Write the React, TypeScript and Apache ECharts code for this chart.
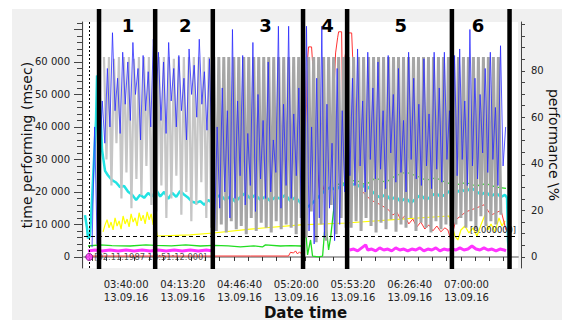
import React, { useEffect, useRef } from 'react';
import * as echarts from 'echarts';

// ---------- axes (time in seconds of day, 13.09.16) ----------
const X_MIN = 11716;
const X_MAX = 27016;
const DATE_LABEL = '13.09.16';
const xTickValues = [12000, 12500, 13000, 13500, 14000, 14500, 15000, 15500, 16000, 16500, 17000, 17500, 18000, 18500, 19000, 19500, 20000, 20500, 21000, 21500, 22000, 22500, 23000, 23500, 24000, 24500, 25000, 25500, 26000, 26500];
const xLabelValues = [13200, 15200, 17200, 19200, 21200, 23200, 25200];

const LEFT_MIN = -3400;
const LEFT_MAX = 72300;
const leftLabelValues = [0, 10000, 20000, 30000, 40000, 50000, 60000];
const leftMajorTicks = [0, 10000, 20000, 30000, 40000, 50000, 60000, 70000];
const leftMinorTicks = [0, 2000, 4000, 6000, 8000, 10000, 12000, 14000, 16000, 18000, 20000, 22000, 24000, 26000, 28000, 30000, 32000, 34000, 36000, 38000, 40000, 42000, 44000, 46000, 48000, 50000, 52000, 54000, 56000, 58000, 60000, 62000, 64000, 66000, 68000, 70000, 72000];

const RIGHT_MIN = -4.75;
const RIGHT_MAX = 101;
const rightLabelValues = [0, 20, 40, 60, 80];
const rightTicks = [0, 5, 10, 15, 20, 25, 30, 35, 40, 45, 50, 55, 60, 65, 70, 75, 80, 85, 90, 95, 100];

// ---------- annotations ----------
const separatorTimes = [12246, 14225, 16257, 19438, 20992, 24686, 26718];
const sectionLabels = ['1', '2', '3', '4', '5', '6'];
const sectionLabelTimes = [13271, 15285, 18112, 20303, 22883, 25604];
const CURSOR_TIME = 11900;
const CURSOR_LABEL = '[02.11.1987 18:51:12.000]';
const THRESHOLD = 9;
const THRESHOLD_LABEL = '[9.000000]';
const GRAY_SPLIT = 16257;

// ---------- time performing (msec), sampled series ----------
const GRAY_START = 12420;
const GRAY_STEP = 88;
const grayValues = [
  61500, 30000, 61500, 22000, 61000, 35000, 61500, 18000, 61500, 26000, 61500, 15000, 61000, 24000, 61500, 19000, 61500, 28000, 61500, 16000, 61500,
  14000, 61500, 22000, 61500, 12000, 61500, 18000, 61000, 25000, 61500, 13000, 61500, 20000, 61500, 11000, 61500, 16000, 61500, 23000, 61500, 12000, 61500, 9000,
  61500, 8000, 61500, 10000, 61500, 7500, 61500, 11000, 61500, 8500, 61500, 9500, 61500, 7000, 61500, 12000, 61500, 8000, 61500, 10500, 61500, 9000, 61500, 7500, 61500, 11000, 61500, 8500, 61500, 10000, 61500, 9000, 61500, 7000, 61500, 12000,
  61500, 6000, 61500, 14000, 61500, 4500, 61500, 10000, 61500, 5000, 61500, 16000, 61500, 7000, 61500, 12000, 61500, 9000,
  61500, 9000, 61500, 11000, 61500, 8000, 61500, 12000, 61500, 9500, 61500, 7500, 61500, 10500, 61500, 8500, 61500, 11500, 61500, 7800, 61500, 10000, 61500, 9000, 61500, 12000, 61500, 8000, 61500, 10500, 61500, 9000, 61500, 7500, 61500, 11000, 61500, 8500, 61500, 10000, 61500, 9500,
  61500, 10000, 61500, 12000, 61500, 9000, 61500, 11000, 61500, 8500, 61500, 12500, 61500, 9500, 61500, 11000, 61500, 10000, 61500, 13000,
];

const BLUE_START = 12000;
const BLUE_STEP = 90;
const blueValues = [
  3000, 40000, 4000, 30000,
  48000, 35000, 58000, 40000, 69000, 45000, 55000, 38000, 63000, 47000, 60000, 42000, 66000, 50000, 58000, 36000, 62000, 45000, 57000, 40000, 67000, 48000,
  63000, 42000, 60000, 38000, 66000, 48000, 58000, 40000, 62000, 45000, 55000, 36000, 64000, 50000, 59000, 43000, 67000, 47000, 57000, 39000, 61000, 30000,
  8000, 40000, 15000, 52000, 20000, 45000, 12000, 70000, 18000, 48000, 25000, 62000, 16000, 38000, 22000, 66000, 14000, 50000, 24000, 42000, 18000, 60000, 20000, 36000, 26000, 71000, 15000, 47000, 22000, 71000, 18000, 44000, 25000, 52000, 10000,
  5000, 71000, 8000, 40000, 4000, 55000, 12000, 71000, 6000, 47000, 15000, 35000, 5000, 58000, 10000, 45000, 20000, 62000,
  25000, 55000, 22000, 64000, 28000, 48000, 20000, 63000, 30000, 52000, 24000, 60000, 27000, 45000, 21000, 62000, 32000, 50000, 23000, 58000, 26000, 42000, 20000, 63000, 30000, 55000, 24000, 47000, 22000, 61000, 28000, 44000, 21000, 63000, 27000, 52000, 23000, 63000, 30000, 45000,
  20000, 62000, 25000, 64000, 30000, 48000, 22000, 70000, 28000, 55000, 24000, 50000, 32000, 58000, 26000, 63000, 30000, 46000, 22000, 65000, 28000, 40000,
];

// ---------- performance % series ----------
const cyanTimes = [11751, 11822, 11857, 11928, 11998, 12069, 12140, 12175, 12246, 12352, 12458, 12564, 12705, 12847, 12988, 13129, 13271, 13412, 13553, 13695, 13836, 13977, 14119, 14260, 14402, 14543, 14684, 14826, 14967, 15108, 15250, 15391, 15532, 15674, 15815, 15957, 16098, 16239, 16381, 16522, 16699, 16875, 17052, 17229, 17405, 17582, 17759, 17936, 18112, 18289, 18466, 18642, 18819, 18996, 19173, 19349, 19526, 19703, 19879, 20056, 20233, 20409, 20586, 20763, 20939, 21116, 21293, 21470, 21646, 21823, 22000, 22176, 22353, 22530, 22706, 22883, 23060, 23237, 23413, 23590, 23767, 23943, 24120, 24297, 24474, 24650, 24827, 25004, 25180, 25357, 25534, 25710, 25887, 26064, 26240, 26417, 26559, 26630, 26665, 26700];
const cyanValues = [18, 12.5, 8, 9, 24.5, 42, 59, 78, 76, 46, 37, 35, 33, 32, 30, 30.5, 28, 26.7, 24.5, 26.7, 25.4, 27.5, 26, 28.8, 26, 28, 25, 27.5, 25.8, 28.4, 26.7, 25.4, 23.7, 23.2, 24, 22.4, 24.5, 23.2, 25.4, 26.7, 24.5, 26, 23.7, 25.8, 27.5, 25, 26.7, 24.5, 26, 24, 25.8, 25, 26.7, 24, 25.8, 23.2, 21, 22.4, 24.5, 26.7, 28.8, 30, 28.8, 30.5, 31.4, 30.5, 31.8, 29.7, 31, 28.8, 26.7, 25.4, 27, 24.5, 26, 23.7, 25.4, 23.2, 25, 26.7, 24.5, 26, 27.5, 25.8, 27, 28.8, 27.5, 29, 28, 29.7, 28.4, 26.7, 28, 26, 27.5, 25.8, 26.7, 25.4, 7, 0];

const yellowTimes = [12387, 12458, 12529, 12599, 12670, 12741, 12811, 12882, 12953, 13023, 13094, 13165, 13235, 13306, 13377, 13447, 13518, 13589, 13659, 13730, 13801, 13871, 13942, 14013, 14084, 14154, 14225, 14296, 15462, 16275, 17582, 19349, 20975, 22883, 24580, 24686, 24792, 24898, 25004, 25145, 25286, 25428, 25569, 25710, 25852, 25958, 26064, 26205, 26346, 26452, 26559];
const yellowValues = [10.8, 13.8, 16, 12.5, 15, 11.6, 16.8, 13.3, 15.5, 12, 17.6, 14.2, 16.3, 12.9, 18.5, 15, 16.8, 13.3, 19, 15.5, 18, 14.2, 19.4, 16, 18.5, 13.8, 15, 9, 9.5, 10.3, 12, 13.8, 14.6, 16.3, 17.6, 13.8, 9, 7.3, 11.6, 13.3, 10.3, 12.5, 9, 13.8, 18, 11.6, 14.2, 10.8, 16.8, 13.3, 15.5];

const greenTimes = [11857, 12281, 12700, 13341, 13900, 14225, 14800, 15300, 15815, 16300, 16800, 17229, 17700, 18006, 18112, 18642, 19000, 19349, 19455, 19526, 19597, 19703, 19773, 19985, 20127, 20197, 20268, 20339, 20409, 20515, 20586, 20975, 21293, 21646, 22000, 22353, 22706, 23060, 23413, 23767, 24120, 24474, 24827, 25180, 25534, 25887, 26240, 26594];
const greenValues = [4.7, 5.2, 4.9, 4.7, 5.2, 5.0, 4.8, 5.2, 4.7, 5.0, 4.8, 4.3, 4.8, 4.3, 5.2, 4.7, 4.9, 4.7, 4.7, 12.5, 0.9, 7.3, 0.4, 0, 0.4, 10.8, 11.6, 3, 8.2, 20, 31, 32, 33, 31, 34, 32, 35, 36.5, 35, 33, 34, 32, 31, 32, 30.5, 31.5, 30, 29.5];

const redTimes = [11857, 14048, 15815, 17582, 18925, 18996, 19102, 19173, 19243, 19314, 19385, 19420, 19526, 19597, 19632, 19738, 19773, 19879, 20056, 20233, 20409, 20515, 20586, 20657, 20692, 20798, 20833, 20904, 20975, 21045, 21152, 21187, 21293, 21470, 21823, 22176, 22459, 22600, 22742, 22883, 23025, 23166, 23307, 23449, 23590, 23731, 23873, 24014, 24155, 24297, 24438, 24544, 24650, 24827, 25180, 25534, 25817, 26064, 26417, 26594];
const redValues = [0.4, 0.4, 0.4, 0.4, 0.4, 2, 1.7, 2.6, 1.3, 2.2, 1.3, 1.3, 46, 84.7, 90.3, 90.3, 83.9, 46, 24.5, 33, 46, 67.5, 87.7, 94.2, 96.8, 96.8, 63.2, 84.7, 91.2, 96.3, 96.3, 86, 59, 28.8, 24.5, 22.4, 20.2, 18, 19.4, 16, 17.6, 14.2, 16.3, 12.9, 15, 12, 13.8, 11.2, 13.3, 10.8, 12.5, 11.6, 7.3, 16, 19.4, 21, 22.4, 18, 20, 11.6];

const magentaTimes = [11857, 12105, 12352, 12635, 12917, 13200, 13483, 13765, 14048, 14331, 14614, 14896, 15179, 15462, 15744, 16027, 16275, 16300, 21081, 21222, 21364, 21505, 21646, 21717, 21858, 22000, 22141, 22282, 22424, 22565, 22706, 22848, 22989, 23130, 23272, 23413, 23555, 23696, 23837, 23979, 24120, 24261, 24403, 24544, 24686, 24827, 24968, 25110, 25251, 25392, 25534, 25675, 25817, 25958, 26099, 26240, 26382, 26523, 26594];
const magentaValues = [2.6, 3.0, 2.6, 3.0, 2.6, 3.0, 2.6, 3.0, 2.6, 3.0, 2.6, 3.0, 2.6, 3.0, 2.6, 3.0, 2.6, null, 3.0, 3.4, 2.6, 3.9, 5.2, 3.0, 3.4, 2.6, 3.9, 3.0, 3.4, 2.6, 3.9, 3.0, 3.4, 2.6, 3.4, 3.0, 3.9, 2.6, 3.4, 3.0, 3.9, 2.6, 3.4, 3.0, 3.4, 3.0, 3.9, 3.0, 3.4, 4.7, 3.4, 3.0, 3.9, 3.0, 3.4, 2.6, 3.4, 3.0, 2.6];

const FONT = 'DejaVu Sans';

const pad = (n: number) => String(n).padStart(2, '0');
const fmtTime = (v: number) => {
  const h = Math.floor(v / 3600);
  const m = Math.floor((v % 3600) / 60);
  const s = Math.round(v % 60);
  return `${pad(h)}:${pad(m)}:${pad(s)}\n${DATE_LABEL}`;
};
const fmtThousands = (v: number) => String(v).replace(/\B(?=(\d{3})+(?!\d))/g, ' ');
const zip = (ts: number[], vs: (number | null)[]) => ts.map((t, i) => [t, vs[i]]);

const lineSeries = (name: string, data: any[], yAxisIndex: number, color: string, width: number, z = 2) => ({
  name,
  type: 'line',
  xAxisIndex: 0,
  yAxisIndex,
  data,
  showSymbol: false,
  symbol: 'none',
  silent: true,
  z,
  connectNulls: false,
  lineStyle: { color, width },
  itemStyle: { color },
});

export default function App() {
  const ref = useRef<HTMLDivElement>(null);

  useEffect(() => {
    if (!ref.current) return;
    const chart = echarts.init(ref.current, undefined, { renderer: 'svg' });

    const grayData = grayValues.map((v, i) => [GRAY_START + i * GRAY_STEP, v]);
    const grayLight = grayData.filter((p) => p[0] <= GRAY_SPLIT + GRAY_STEP);
    const grayDark = grayData.filter((p) => p[0] >= GRAY_SPLIT);
    const blueData = blueValues.map((v, i) => [BLUE_START + i * BLUE_STEP, v]);

    const option: any = {
      animation: false,
      backgroundColor: '#ffffff',
      textStyle: { fontFamily: FONT },
      graphic: [
        { type: 'rect', z: -10, shape: { x: 12, y: 9, width: 550, height: 311 }, style: { fill: '#f0f0f0' }, silent: true },
      ],
      grid: {
        left: 84, right: 44, top: 22, bottom: 52,
        show: true, backgroundColor: '#ffffff', borderWidth: 0,
        containLabel: false, outerBoundsMode: 'none',
      },
      xAxis: [
        {
          type: 'value',
          min: X_MIN,
          max: X_MAX,
          position: 'bottom',
          axisLine: { show: false },
          axisTick: { show: true, customValues: xTickValues, length: 4, lineStyle: { color: '#333' } },
          axisLabel: {
            customValues: xLabelValues,
            formatter: fmtTime,
            fontSize: 10,
            fontFamily: FONT,
            color: '#222',
            lineHeight: 13,
            margin: 10,
          },
          splitLine: { show: false },
          name: 'Date time',
          nameLocation: 'middle',
          nameGap: 37,
          nameMoveOverlap: false,
          nameTextStyle: { fontSize: 15, fontWeight: 'bold', fontFamily: FONT, color: '#111', padding: [0, 0, 0, 9] },
        },
        {
          type: 'value',
          min: X_MIN,
          max: X_MAX,
          position: 'top',
          axisLine: { show: true, lineStyle: { color: '#a8a8a8', width: 2 } },
          axisTick: { show: false },
          axisLabel: { show: false },
          splitLine: { show: false },
        },
      ],
      yAxis: [
        {
          type: 'value',
          min: LEFT_MIN,
          max: LEFT_MAX,
          position: 'left',
          offset: 2,
          axisLine: { show: true, lineStyle: { color: '#444', width: 1 } },
          axisTick: { show: true, customValues: leftMajorTicks, length: 8, lineStyle: { color: '#444' } },
          axisLabel: {
            customValues: leftLabelValues,
            formatter: fmtThousands,
            fontSize: 10,
            fontFamily: FONT,
            color: '#222',
            margin: 12,
          },
          splitLine: { show: false },
          name: 'time performing (msec)',
          nameLocation: 'middle',
          nameGap: 48,
          nameMoveOverlap: false,
          nameTextStyle: { fontSize: 14, fontFamily: FONT, color: '#111' },
        },
        {
          type: 'value',
          min: LEFT_MIN,
          max: LEFT_MAX,
          position: 'left',
          offset: 2,
          axisLine: { show: false },
          axisTick: { show: true, customValues: leftMinorTicks, length: 5, lineStyle: { color: '#444' } },
          axisLabel: { show: false },
          splitLine: { show: false },
        },
        {
          type: 'value',
          min: RIGHT_MIN,
          max: RIGHT_MAX,
          position: 'right',
          offset: 3,
          axisLine: { show: true, lineStyle: { color: '#444', width: 1 } },
          axisTick: { show: true, customValues: rightTicks, length: 4, lineStyle: { color: '#444' } },
          axisLabel: {
            customValues: rightLabelValues,
            fontSize: 10,
            fontFamily: FONT,
            color: '#222',
            margin: 10,
          },
          splitLine: { show: false },
          name: 'performance \\%',
          nameLocation: 'middle',
          nameRotate: -90,
          nameGap: 26,
          nameMoveOverlap: false,
          nameTextStyle: { fontSize: 14, fontFamily: FONT, color: '#111' },
        },
      ],
      series: [
        lineSeries('yellow', zip(yellowTimes, yellowValues), 2, '#ffff00', 1.2),
        lineSeries('green', zip(greenTimes, greenValues), 2, '#22dd22', 1.3),
        lineSeries('red', zip(redTimes, redValues), 2, '#ff3333', 1),
        lineSeries('magenta', zip(magentaTimes, magentaValues), 2, '#ff33ff', 3),
        lineSeries('cyan', zip(cyanTimes, cyanValues), 2, '#22e3e3', 2.5),
        lineSeries('grayLight', grayLight, 0, '#c6c6c6', 2.2),
        lineSeries('grayDark', grayDark, 0, '#a6a6a6', 3),
        lineSeries('blue', blueData, 0, 'rgba(40,40,255,0.78)', 1),
        {
          type: 'scatter',
          xAxisIndex: 0,
          yAxisIndex: 2,
          data: [[CURSOR_TIME, 0]],
          symbolSize: 7,
          silent: true,
          z: 5,
          itemStyle: { color: '#ff33ff', borderColor: '#700070', borderWidth: 1 },
          label: {
            show: true,
            position: 'right',
            distance: 1,
            formatter: CURSOR_LABEL,
            fontSize: 8.3,
            fontFamily: FONT,
            color: '#222',
          },
          markLine: {
            silent: true,
            symbol: 'none',
            animation: false,
            data: [
              { xAxis: CURSOR_TIME, lineStyle: { type: [2, 2], color: '#000', width: 1 }, label: { show: false } },
              {
                yAxis: THRESHOLD,
                lineStyle: { type: [4, 3], color: '#000', width: 1 },
                label: {
                  show: true,
                  position: 'insideEndTop',
                  formatter: THRESHOLD_LABEL,
                  fontSize: 8.3,
                  fontFamily: FONT,
                  color: '#222',
                  distance: 2,
                },
              },
            ],
          },
        },
        {
          type: 'custom',
          coordinateSystem: 'cartesian2d',
          xAxisIndex: 0,
          yAxisIndex: 0,
          silent: true,
          z: 10,
          clip: false,
          data: separatorTimes.map((t) => [t, 0]),
          encode: { x: 0, y: 1 },
          renderItem: (params: any, api: any) => {
            const cs = params.coordSys;
            const x = api.coord([api.value(0), 0])[0];
            return {
              type: 'line',
              shape: { x1: x, y1: cs.y - 13, x2: x, y2: cs.y + cs.height + 1 },
              style: { stroke: '#000', lineWidth: 4.5 },
            };
          },
        },
        {
          type: 'custom',
          coordinateSystem: 'cartesian2d',
          xAxisIndex: 0,
          yAxisIndex: 0,
          silent: true,
          z: 11,
          clip: false,
          data: sectionLabelTimes.map((t) => [t, 0]),
          encode: { x: 0, y: 1 },
          renderItem: (params: any, api: any) => {
            const cs = params.coordSys;
            const x = api.coord([api.value(0), 0])[0];
            return {
              type: 'text',
              x,
              y: cs.y + 3,
              style: {
                text: sectionLabels[params.dataIndex],
                fill: '#000',
                fontSize: 18,
                fontWeight: 'bold',
                fontFamily: FONT,
                align: 'center',
                verticalAlign: 'middle',
              },
            };
          },
        },
      ],
    };

    chart.setOption(option);
    return () => chart.dispose();
  }, []);

  return <div ref={ref} style={{ position: 'fixed', left: 0, top: 0, width: 562, height: 320 }} />;
}
